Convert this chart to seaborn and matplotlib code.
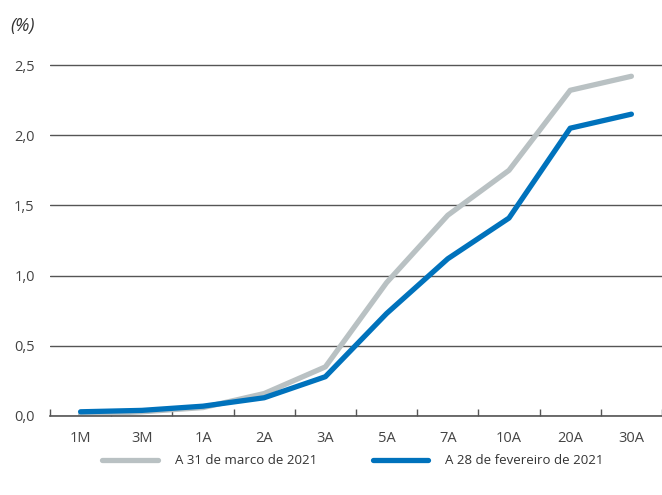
import pandas as pd
import matplotlib.pyplot as plt
import seaborn as sns
from matplotlib.ticker import FixedLocator

prazos = ["1M", "3M", "1A", "2A", "3A", "5A", "7A", "10A", "20A", "30A"]
marco_2021 = [0.01, 0.03, 0.06, 0.16, 0.35, 0.95, 1.43, 1.75, 2.32, 2.42]
fevereiro_2021 = [0.03, 0.04, 0.07, 0.13, 0.28, 0.73, 1.12, 1.41, 2.05, 2.15]
series = ["A 31 de marco de 2021", "A 28 de fevereiro de 2021"]
y_ticks = [0.0, 0.5, 1.0, 1.5, 2.0, 2.5]

df = pd.DataFrame({
    "prazo": prazos * 2,
    "valor": marco_2021 + fevereiro_2021,
    "serie": [series[0]] * len(prazos) + [series[1]] * len(prazos),
})

sns.set_style("white")
plt.rcParams["font.family"] = ["Open Sans", "DejaVu Sans"]

fig = plt.figure(figsize=(6.62, 4.95), dpi=100)
ax = fig.add_axes([0.0755, 0.1596, 0.9245, 0.7374])

sns.lineplot(
    data=df,
    x="prazo",
    y="valor",
    hue="serie",
    palette=["#b9c1c3", "#0072bc"],
    linewidth=3.8,
    sort=False,
    ax=ax,
)

ax.set_xlim(-0.5, 9.5)
ax.set_ylim(0, 2.6)
ax.set_yticks(y_ticks)
ax.set_yticklabels([f"{v:.1f}".replace(".", ",") for v in y_ticks])
ax.yaxis.grid(True, color="#555555", linewidth=1)
ax.set_axisbelow(True)
for s in ["top", "right", "left"]:
    ax.spines[s].set_visible(False)
ax.spines["bottom"].set_color("#555555")
ax.spines["bottom"].set_linewidth(1.2)

ax.xaxis.set_minor_locator(FixedLocator([i + 0.5 for i in range(-1, 10)]))
ax.tick_params(axis="x", which="major", length=0, pad=11, labelsize=10.5, labelcolor="#444444")
ax.tick_params(axis="x", which="minor", direction="in", length=5, width=1, color="#555555", bottom=True)
ax.tick_params(axis="y", length=0, pad=11, labelsize=10.5, labelcolor="#444444")
ax.set_xlabel("")
ax.set_ylabel("")

fig.text(0.015, 0.948, "(%)", fontsize=13, style="italic", color="#333333", va="center")

ax.legend(
    loc="center",
    bbox_to_anchor=(0.495, -0.123),
    ncol=2,
    frameon=False,
    fontsize=9.5,
    handlelength=4.2,
    handletextpad=1.3,
    columnspacing=4.2,
    labelcolor="#333333",
)

plt.savefig("out.png", dpi=100)
